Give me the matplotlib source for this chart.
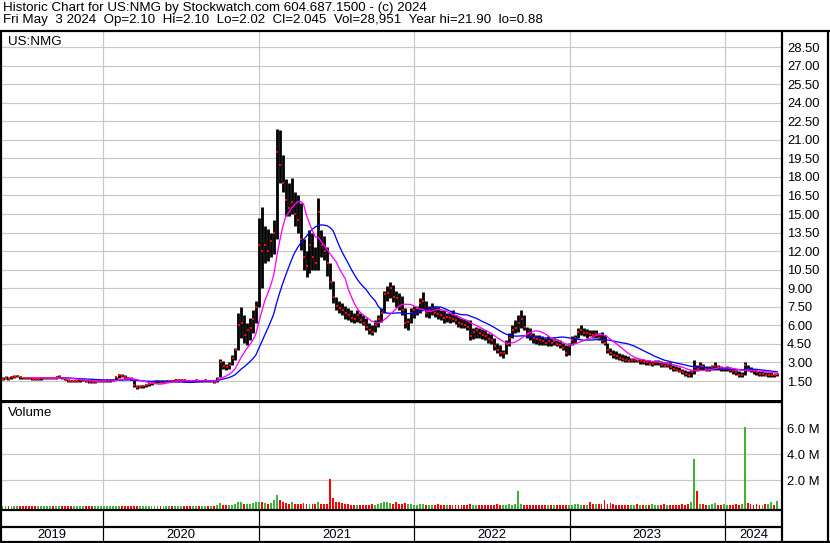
import numpy as np
import pandas as pd
import matplotlib
matplotlib.use("Agg")
import matplotlib.pyplot as plt
import matplotlib.dates as mdates

plt.rcParams['font.family'] = ['Liberation Sans', 'DejaVu Sans']

# ---------------- data ----------------
symbol = "US:NMG"
title_line1 = "Historic Chart for US:NMG by Stockwatch.com 604.687.1500 - (c) 2024"
title_line2 = ("Fri May  3 2024  Op=2.10  Hi=2.10  Lo=2.02  Cl=2.045  "
               "Vol=28,951  Year hi=21.90  lo=0.88")
first_week = "2019-05-10"   # weekly bars, last one is 2024-05-03

high = [
    1.85, 1.9, 1.85, 1.9, 2.0, 2.0, 1.9, 1.85, 1.85, 1.8,
    1.8, 1.75, 1.78, 1.8, 1.82, 1.85, 1.85, 1.82, 1.85, 1.95,
    1.85, 1.75, 1.65, 1.6, 1.6, 1.62, 1.65, 1.65, 1.62, 1.6,
    1.55, 1.55, 1.6, 1.6, 1.62, 1.62, 1.65, 1.7, 1.85, 2.05,
    2.1, 1.95, 1.85, 1.8, 1.6, 1.2, 1.15, 1.2, 1.25, 1.35,
    1.45, 1.55, 1.6, 1.55, 1.55, 1.6, 1.62, 1.6, 1.65, 1.7,
    1.7, 1.65, 1.6, 1.55, 1.6, 1.65, 1.62, 1.6, 1.65, 1.6,
    1.62, 1.6, 1.8, 3.3, 3.1, 2.9, 3.0, 3.6, 4.2, 7.0,
    7.5, 6.8, 6.2, 6.6, 7.2, 8.0, 14.7, 15.6, 14.0, 13.8,
    13.5, 14.5, 21.9, 21.8, 19.8, 17.8, 17.5, 17.9, 16.8, 16.5,
    15.9, 13.0, 12.0, 13.7, 13.5, 12.3, 16.3, 13.7, 13.2, 12.3,
    11.0, 9.6, 8.3, 8.0, 7.8, 7.6, 7.4, 7.2, 7.0, 7.2,
    7.0, 6.8, 6.6, 6.2, 6.0, 6.4, 6.8, 7.4, 8.8, 9.2,
    9.5, 9.3, 8.8, 8.6, 8.4, 7.4, 6.6, 7.4, 7.6, 7.6,
    8.2, 8.7, 8.0, 7.6, 7.8, 7.6, 7.5, 7.2, 7.2, 7.0,
    7.1, 7.2, 6.8, 6.7, 6.6, 6.5, 6.4, 6.4, 5.8, 5.9,
    5.8, 5.7, 5.6, 5.4, 5.3, 5.0, 4.6, 4.4, 4.0, 4.8,
    5.4, 6.0, 6.4, 6.8, 7.2, 6.8, 5.9, 5.8, 5.4, 5.2,
    5.2, 5.1, 5.0, 5.1, 5.0, 5.0, 4.9, 4.8, 4.6, 4.4,
    4.6, 5.1, 5.2, 5.8, 6.0, 5.8, 5.7, 5.6, 5.6, 5.6,
    5.4, 5.5, 5.2, 4.6, 4.2, 4.0, 3.9, 3.8, 3.7, 3.6,
    3.5, 3.4, 3.4, 3.3, 3.3, 3.3, 3.2, 3.2, 3.1, 3.2,
    3.2, 3.1, 3.0, 3.0, 3.0, 2.8, 2.7, 2.6, 2.5, 2.4,
    2.3, 2.4, 3.2, 2.8, 3.0, 2.9, 2.7, 2.7, 2.8, 3.0,
    2.8, 2.7, 2.6, 2.7, 2.6, 2.5, 2.4, 2.3, 2.2, 3.0,
    2.8, 2.6, 2.5, 2.4, 2.3, 2.3, 2.2, 2.2, 2.2, 2.1, 2.1,
]

low = [
    1.62, 1.65, 1.6, 1.7, 1.75, 1.8, 1.7, 1.7, 1.7, 1.65,
    1.62, 1.6, 1.6, 1.62, 1.65, 1.68, 1.7, 1.68, 1.7, 1.72,
    1.65, 1.55, 1.4, 1.38, 1.4, 1.42, 1.45, 1.48, 1.45, 1.35,
    1.32, 1.35, 1.38, 1.4, 1.42, 1.45, 1.45, 1.5, 1.55, 1.75,
    1.8, 1.7, 1.65, 1.55, 1.05, 0.88, 0.92, 0.95, 1.0, 1.1,
    1.2, 1.3, 1.35, 1.35, 1.35, 1.4, 1.42, 1.4, 1.45, 1.45,
    1.5, 1.45, 1.4, 1.38, 1.4, 1.42, 1.42, 1.4, 1.45, 1.42,
    1.4, 1.35, 1.4, 1.8, 2.5, 2.4, 2.5, 2.8, 3.2, 4.0,
    5.0, 4.6, 4.4, 4.8, 5.4, 6.2, 7.5, 9.0, 11.0, 11.2,
    11.5, 11.8, 13.0, 17.5, 16.8, 14.8, 14.8, 15.0, 14.0, 13.5,
    12.1, 10.5, 9.9, 10.2, 10.5, 10.5, 10.5, 11.5, 11.3, 10.0,
    8.9, 7.8, 7.2, 7.0, 6.8, 6.5, 6.4, 6.3, 6.2, 6.3,
    6.2, 6.0, 5.6, 5.3, 5.2, 5.5, 5.9, 6.3, 7.0, 8.0,
    8.2, 7.9, 7.5, 7.2, 6.8, 5.8, 5.6, 6.2, 6.6, 6.8,
    7.0, 7.2, 6.7, 6.6, 6.8, 6.7, 6.5, 6.4, 6.2, 6.3,
    6.2, 6.3, 6.1, 5.9, 5.8, 5.8, 5.6, 4.8, 4.9, 5.0,
    5.0, 4.9, 4.8, 4.6, 4.5, 4.0, 3.8, 3.5, 3.4, 3.7,
    4.3, 5.0, 5.4, 5.5, 5.8, 5.6, 5.0, 4.8, 4.6, 4.5,
    4.4, 4.4, 4.4, 4.3, 4.3, 4.4, 4.3, 4.2, 4.0, 3.5,
    3.6, 4.4, 4.6, 5.0, 5.2, 5.1, 5.0, 5.1, 5.0, 5.0,
    4.8, 4.6, 4.4, 3.8, 3.6, 3.4, 3.3, 3.2, 3.1, 3.0,
    3.0, 3.0, 3.0, 3.0, 2.9, 2.9, 2.8, 2.8, 2.7, 2.8,
    2.8, 2.6, 2.6, 2.6, 2.5, 2.3, 2.3, 2.2, 2.1, 1.9,
    1.8, 1.8, 2.1, 2.3, 2.4, 2.4, 2.3, 2.3, 2.4, 2.4,
    2.4, 2.3, 2.3, 2.3, 2.2, 2.1, 2.0, 1.8, 1.8, 2.0,
    2.3, 2.2, 2.1, 2.0, 1.9, 1.9, 1.9, 1.8, 1.8, 1.85, 1.9,
]

close = [
    1.7, 1.75, 1.7, 1.8, 1.85, 1.9, 1.8, 1.78, 1.75, 1.72,
    1.7, 1.68, 1.7, 1.72, 1.75, 1.78, 1.78, 1.75, 1.8, 1.85,
    1.72, 1.62, 1.5, 1.48, 1.5, 1.52, 1.55, 1.55, 1.52, 1.45,
    1.42, 1.45, 1.48, 1.5, 1.52, 1.55, 1.55, 1.6, 1.8, 1.95,
    1.9, 1.8, 1.75, 1.6, 1.15, 1.0, 1.05, 1.1, 1.15, 1.25,
    1.35, 1.45, 1.5, 1.45, 1.45, 1.5, 1.52, 1.48, 1.55, 1.6,
    1.6, 1.55, 1.5, 1.45, 1.5, 1.55, 1.5, 1.5, 1.55, 1.5,
    1.5, 1.45, 1.7, 3.0, 2.7, 2.6, 2.8, 3.4, 4.0, 6.0,
    6.2, 5.2, 5.6, 5.8, 6.5, 7.5, 12.5, 12.0, 12.5, 12.0,
    12.8, 13.5, 20.0, 19.0, 17.5, 16.1, 15.5, 16.0, 15.0, 14.5,
    13.0, 11.5, 10.8, 12.5, 11.5, 11.0, 15.2, 12.5, 12.0, 11.0,
    9.5, 8.3, 7.6, 7.4, 7.2, 7.0, 6.8, 6.6, 6.5, 6.8,
    6.4, 6.2, 5.9, 5.6, 5.5, 6.0, 6.5, 7.0, 8.5, 8.6,
    9.0, 8.3, 8.2, 7.6, 7.2, 6.2, 6.3, 7.0, 7.2, 7.4,
    7.8, 8.0, 7.0, 7.2, 7.4, 7.0, 6.9, 6.8, 6.6, 6.7,
    6.6, 6.5, 6.4, 6.2, 6.1, 6.0, 5.9, 5.1, 5.5, 5.6,
    5.4, 5.2, 5.1, 4.9, 4.8, 4.3, 4.0, 3.8, 3.8, 4.5,
    5.0, 5.6, 5.8, 6.2, 6.5, 5.9, 5.4, 5.2, 5.0, 4.9,
    4.8, 4.7, 4.6, 4.7, 4.6, 4.7, 4.5, 4.4, 4.2, 3.8,
    4.3, 4.8, 5.0, 5.5, 5.6, 5.4, 5.4, 5.3, 5.2, 5.3,
    5.0, 4.8, 4.6, 4.0, 3.8, 3.6, 3.5, 3.4, 3.3, 3.2,
    3.1, 3.2, 3.2, 3.1, 3.1, 3.0, 3.0, 2.9, 2.9, 3.0,
    3.0, 2.8, 2.7, 2.8, 2.6, 2.5, 2.4, 2.3, 2.2, 2.1,
    2.0, 2.2, 2.6, 2.5, 2.7, 2.6, 2.5, 2.5, 2.6, 2.7,
    2.6, 2.5, 2.5, 2.5, 2.4, 2.3, 2.2, 2.0, 2.0, 2.8,
    2.5, 2.4, 2.3, 2.2, 2.1, 2.1, 2.0, 2.0, 2.0, 1.95, 2.05,
]

volume_m = [
    0.04, 0.03, 0.04, 0.03, 0.05, 0.04, 0.03, 0.04, 0.03, 0.03,
    0.03, 0.04, 0.03, 0.03, 0.04, 0.03, 0.03, 0.04, 0.03, 0.04,
    0.04, 0.03, 0.04, 0.03, 0.03, 0.04, 0.03, 0.03, 0.04, 0.03,
    0.03, 0.04, 0.03, 0.03, 0.04, 0.03, 0.03, 0.04, 0.05, 0.05,
    0.04, 0.04, 0.03, 0.04, 0.06, 0.05, 0.04, 0.04, 0.03, 0.04,
    0.04, 0.03, 0.04, 0.03, 0.03, 0.04, 0.03, 0.04, 0.03, 0.03,
    0.04, 0.03, 0.03, 0.04, 0.03, 0.04, 0.03, 0.03, 0.04, 0.03,
    0.04, 0.05, 0.12, 0.25, 0.12, 0.08, 0.10, 0.12, 0.15, 0.30,
    0.35, 0.20, 0.18, 0.20, 0.22, 0.30, 0.35, 0.30, 0.25, 0.20,
    0.25, 0.45, 0.85, 0.50, 0.30, 0.25, 0.20, 0.30, 0.20, 0.15,
    0.20, 0.25, 0.15, 0.20, 0.18, 0.15, 0.30, 0.20, 0.15, 0.20,
    2.10, 0.60, 0.35, 0.30, 0.25, 0.20, 0.15, 0.10, 0.08, 0.10,
    0.08, 0.10, 0.12, 0.10, 0.15, 0.12, 0.20, 0.25, 0.30, 0.35,
    0.25, 0.20, 0.30, 0.15, 0.20, 0.25, 0.20, 0.15, 0.12, 0.10,
    0.15, 0.20, 0.12, 0.10, 0.12, 0.10, 0.15, 0.10, 0.12, 0.10,
    0.10, 0.12, 0.10, 0.08, 0.10, 0.12, 0.10, 0.15, 0.10, 0.08,
    0.10, 0.08, 0.10, 0.12, 0.10, 0.12, 0.15, 0.12, 0.10, 0.12,
    0.15, 0.12, 0.20, 1.20, 0.15, 0.12, 0.10, 0.08, 0.10, 0.08,
    0.10, 0.08, 0.10, 0.08, 0.08, 0.10, 0.08, 0.10, 0.12, 0.10,
    0.10, 0.12, 0.15, 0.20, 0.12, 0.10, 0.12, 0.30, 0.20, 0.15,
    0.20, 0.15, 0.45, 0.20, 0.25, 0.15, 0.12, 0.10, 0.12, 0.10,
    0.10, 0.12, 0.10, 0.15, 0.12, 0.10, 0.12, 0.10, 0.15, 0.10,
    0.12, 0.10, 0.15, 0.12, 0.10, 0.12, 0.10, 0.12, 0.15, 0.12,
    0.15, 0.30, 3.60, 1.20, 0.20, 0.15, 0.12, 0.10, 0.15, 0.25,
    0.12, 0.10, 0.15, 0.12, 0.10, 0.12, 0.15, 0.12, 0.20, 6.10,
    0.25, 0.15, 0.12, 0.15, 0.10, 0.12, 0.20, 0.15, 0.35, 0.12, 0.40,
]

year_labels = ["2019", "2020", "2021", "2022", "2023", "2024"]
price_ticks = [1.5, 3.0, 4.5, 6.0, 7.5, 9.0, 10.5, 12.0, 13.5, 15.0,
               16.5, 18.0, 19.5, 21.0, 22.5, 24.0, 25.5, 27.0, 28.5]
volume_ticks_m = [2.0, 4.0, 6.0]
ma_fast_weeks = 10
ma_slow_weeks = 20

# ---------------- layout helpers ----------------
W, H = 830, 543
def fx(px):
    return px / W
def fy(py):
    return 1 - py / H
def px2pt(p):
    return p * 72.0 / 100.0

fig = plt.figure(figsize=(W / 100, H / 100), dpi=100)
fig.patch.set_facecolor("white")

dates = pd.date_range(first_week, periods=len(close), freq="7D")
dnum = mdates.date2num(dates)
x_left = mdates.date2num(pd.Timestamp("2019-05-06")) + 0.4
x_right = mdates.date2num(pd.Timestamp("2024-01-01")) + 133.9
year_starts = [mdates.date2num(pd.Timestamp(f"{y}-01-01")) for y in year_labels]

grid_c = "#c8c8c8"
left_px, right_px = 1, 782

# ---------------- price panel ----------------
ax_p = fig.add_axes([fx(left_px), fy(400.5), fx(right_px) - fx(left_px), fy(30) - fy(400.5)])
ax_p.set_xlim(x_left, x_right)
ax_p.set_ylim(-0.076, 29.875)
for s in ax_p.spines.values():
    s.set_visible(False)
ax_p.set_xticks([])
ax_p.yaxis.tick_right()
ax_p.set_yticks(price_ticks)
ax_p.set_yticklabels([f"{t:.2f}" for t in price_ticks])
ax_p.tick_params(axis="y", length=0, pad=px2pt(5), labelsize=9.4, labelcolor="#000010")
for t in price_ticks:
    ax_p.axhline(t, color=grid_c, lw=px2pt(1.2), zorder=0)
for ys in year_starts[1:]:
    ax_p.axvline(ys, color=grid_c, lw=px2pt(1.2), zorder=0)

close_s = pd.Series(close)
ma_fast = close_s.rolling(ma_fast_weeks).mean()
ma_slow = close_s.rolling(ma_slow_weeks).mean()

ax_p.vlines(dnum, low, high, color="black", lw=px2pt(2.8), zorder=2)
ax_p.plot(dnum + 1.5, close, linestyle="none", marker="s", markersize=px2pt(2.4),
          markeredgewidth=0, color="#ff0000", zorder=3)
ax_p.plot(dnum, ma_slow, color="#0000ff", lw=px2pt(1.3), zorder=4)
ax_p.plot(dnum, ma_fast, color="#ff00ff", lw=px2pt(1.3), zorder=5)

# ---------------- volume panel ----------------
ax_v = fig.add_axes([fx(left_px), fy(510), fx(right_px) - fx(left_px), fy(402) - fy(510)])
ax_v.set_xlim(x_left, x_right)
v_floor = -0.285
ax_v.set_ylim(v_floor, 8.02)
for s in ax_v.spines.values():
    s.set_visible(False)
ax_v.set_xticks([])
ax_v.yaxis.tick_right()
ax_v.set_yticks(volume_ticks_m)
ax_v.set_yticklabels([f"{t:.1f} M" for t in volume_ticks_m])
ax_v.tick_params(axis="y", length=0, pad=px2pt(5), labelsize=9.4, labelcolor="#000010")
for t in volume_ticks_m:
    ax_v.axhline(t, color=grid_c, lw=px2pt(1.2), zorder=0)
for ys in year_starts[1:]:
    ax_v.axvline(ys, color=grid_c, lw=px2pt(1.2), zorder=0)

vol = np.array(volume_m)
cl = np.array(close)
up = np.concatenate([[True], cl[1:] >= cl[:-1]])
vcolors = np.where(up, "#3cb43c", "#ff0000")
ax_v.bar(dnum, vol - v_floor, bottom=v_floor, width=4.5, color=vcolors,
         linewidth=0, zorder=2)

# ---------------- year row ----------------
ax_y = fig.add_axes([fx(left_px), fy(541), fx(right_px) - fx(left_px), fy(510) - fy(541)])
ax_y.set_xlim(x_left, x_right)
ax_y.set_ylim(541, 510)
ax_y.axis("off")
for ys in year_starts[1:]:
    ax_y.axvline(ys, color="black", lw=px2pt(1.2))
bounds = [x_left] + year_starts[1:] + [x_right]
for lab, a, b in zip(year_labels, bounds[:-1], bounds[1:]):
    ax_y.text((a + b) / 2, 534.5, lab, ha="center", va="center", fontsize=9.4,
              color="#000010")

# ---------------- frame & titles ----------------
ax_o = fig.add_axes([0, 0, 1, 1], zorder=10)
ax_o.set_xlim(0, W)
ax_o.set_ylim(H, 0)
ax_o.axis("off")
ax_o.patch.set_alpha(0)
lw2 = px2pt(2.2)
frame_lines = [
    ((1, 1), (30, 542), lw2),
    ((0, W), (30.5, 30.5), lw2),
    ((0, right_px), (400, 400), px2pt(1.0)),
    ((0, right_px), (402.3, 402.3), lw2),
    ((0, right_px), (510, 510), lw2),
    ((0, right_px), (527, 527), lw2),
    ((0, W), (541.5, 541.5), lw2),
    ((right_px, right_px), (30, 542), lw2),
    ((828, 828), (30, 542), lw2),
]
for xs, ys, lw in frame_lines:
    ax_o.plot(xs, ys, color="black", lw=lw, solid_capstyle="butt")

ax_o.text(3, 8, title_line1, fontsize=9.6, va="center", ha="left", color="black")
ax_o.text(3, 20.5, title_line2, fontsize=9.6, va="center", ha="left", color="black")
ax_o.text(8, 42, symbol, fontsize=9.6, va="center", ha="left", color="black")
ax_o.text(8, 413, "Volume", fontsize=9.6, va="center", ha="left", color="black")

fig.savefig("out.png", dpi=100, facecolor="white")
